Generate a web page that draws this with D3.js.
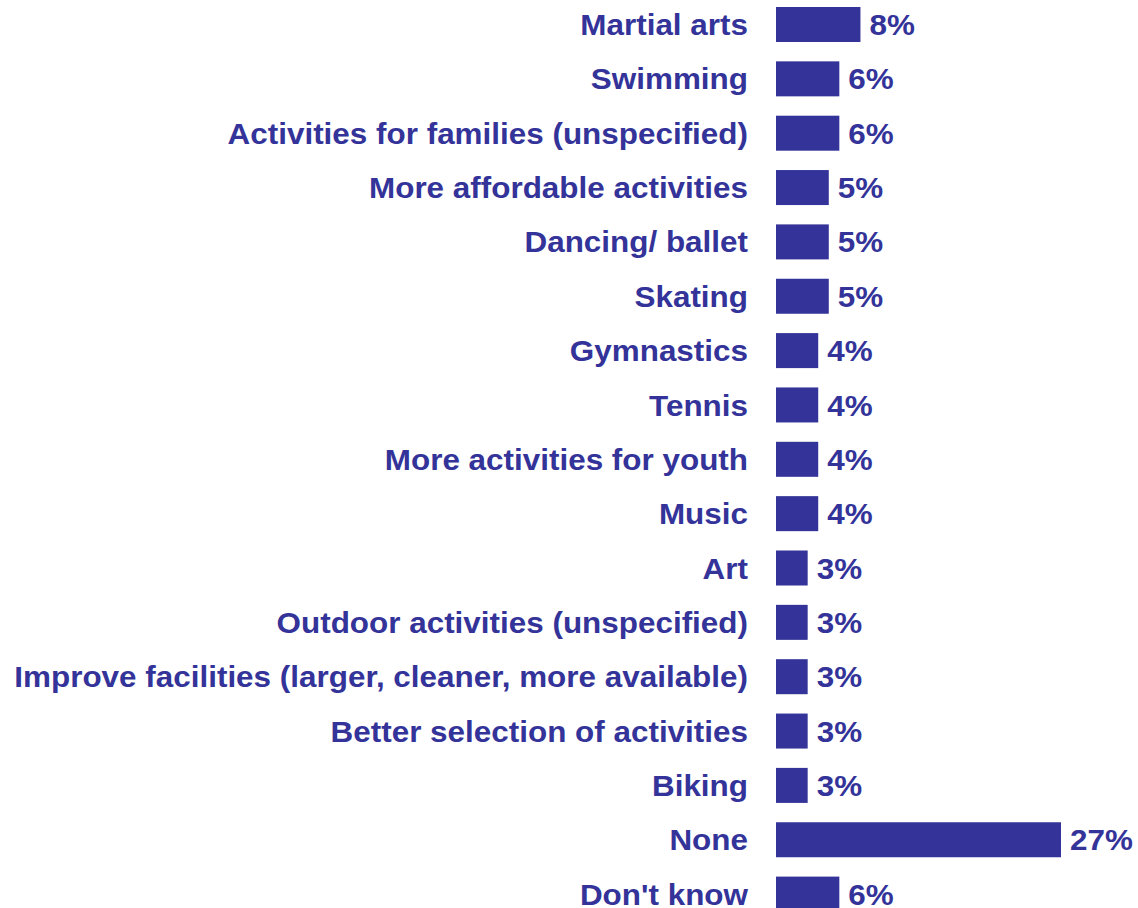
<!DOCTYPE html>
<html>
<head>
<meta charset="utf-8">
<script src="https://cdn.jsdelivr.net/npm/d3@7"></script>
<style>
  html, body { margin: 0; padding: 0; background: #fff; }
  svg { display: block; }
  text { font-family: "Liberation Sans", Arial, Helvetica, sans-serif; font-weight: bold; fill: #333399; }
</style>
</head>
<body>
<svg id="chart" width="1138" height="908"></svg>
<script>
// Suggested activities (share of respondents, %)
const categories = [
  "Martial arts",
  "Swimming",
  "Activities for families (unspecified)",
  "More affordable activities",
  "Dancing/ ballet",
  "Skating",
  "Gymnastics",
  "Tennis",
  "More activities for youth",
  "Music",
  "Art",
  "Outdoor activities (unspecified)",
  "Improve facilities (larger, cleaner, more available)",
  "Better selection of activities",
  "Biking",
  "None",
  "Don't know"
];
const values = [8, 6, 6, 5, 5, 5, 4, 4, 4, 4, 3, 3, 3, 3, 3, 27, 6];

const barColor = "#333399";
const svg = d3.select("#chart");

const step = 54.35;
const innerPad = 0.356;
const top0 = 7 - (innerPad / 2) * step;
const stretch = 1.084;   // slightly wide lettering

const y = d3.scaleBand()
  .domain(categories)
  .range([top0, top0 + step * categories.length])
  .paddingInner(innerPad)
  .paddingOuter(innerPad / 2);

const x = d3.scaleLinear()
  .domain([0, 27])
  .range([776, 1061]);

const rows = svg.selectAll("g.row")
  .data(categories.map((c, i) => ({ cat: c, val: values[i] })))
  .join("g")
  .attr("class", "row");

rows.append("rect")
  .attr("x", x(0))
  .attr("y", d => y(d.cat))
  .attr("width", d => x(d.val) - x(0))
  .attr("height", y.bandwidth())
  .attr("fill", barColor);

const yc = d => y(d.cat) + y.bandwidth() / 2 + 0.5;

rows.append("text")
  .attr("transform", d => `translate(${x(0) - 28},${yc(d)}) scale(${stretch},1)`)
  .attr("text-anchor", "end")
  .attr("dominant-baseline", "central")
  .style("font-size", "29px")
  .text(d => d.cat);

rows.append("text")
  .attr("transform", d => `translate(${x(d.val) + 9},${yc(d)}) scale(${stretch},1)`)
  .attr("text-anchor", "start")
  .attr("dominant-baseline", "central")
  .style("font-size", "29px")
  .text(d => d.val + "%");
</script>
</body>
</html>
